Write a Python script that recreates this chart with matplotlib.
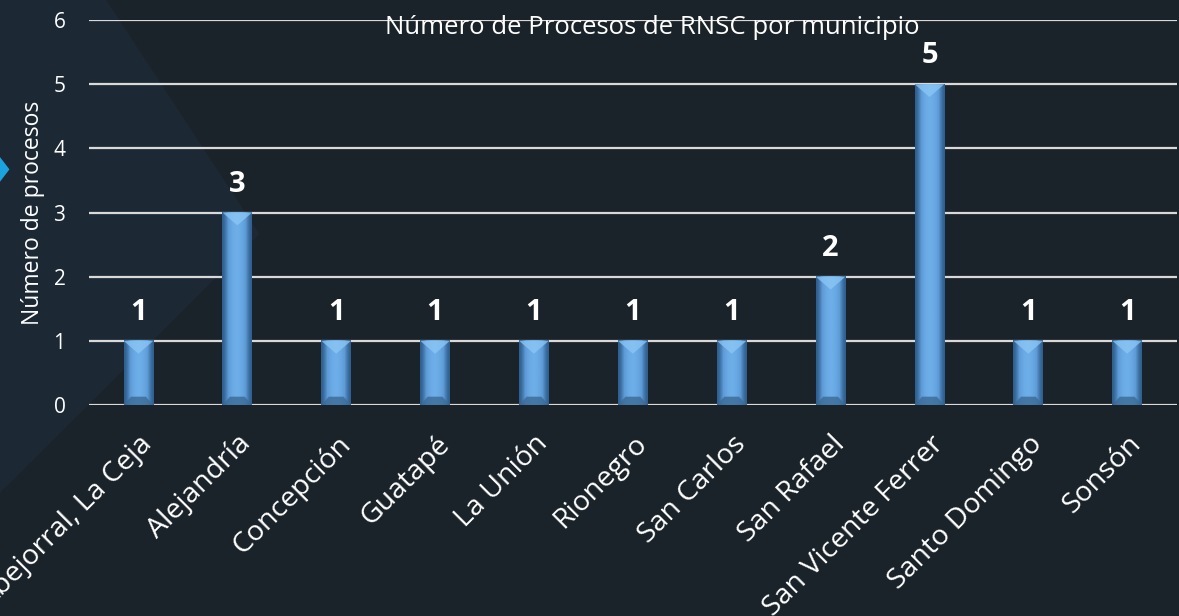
import numpy as np
import matplotlib.pyplot as plt
from matplotlib.patches import Polygon

municipios = ["Abejorral, La Ceja", "Alejandría", "Concepción", "Guatapé", "La Unión",
              "Rionegro", "San Carlos", "San Rafael", "San Vicente Ferrer",
              "Santo Domingo", "Sonsón"]
procesos = [1, 3, 1, 1, 1, 1, 1, 2, 5, 1, 1]

bg = "#1a2329"
plt.rcParams['font.family'] = ['Open Sans', 'DejaVu Sans']

fig = plt.figure(figsize=(11.79, 6.16), dpi=100, facecolor=bg)

# decorative background shapes (figure coords)
fig.patches.append(Polygon([(0, 1), (0.09, 1), (0.22, 0.62), (0, 0.20)], closed=True,
                           transform=fig.transFigure, facecolor="#1c2935", edgecolor="none", zorder=-2))
fig.patches.append(Polygon([(0, 0.745), (0.008, 0.725), (0, 0.705)], closed=True,
                           transform=fig.transFigure, facecolor="#1ba3e0", edgecolor="none", zorder=-1))

ax = fig.add_axes([0.0755, 0.3425, 0.9225, 0.625])
ax.set_facecolor("none")

x = np.arange(len(municipios))
bars = ax.bar(x, procesos, width=0.3, color="#5b9bd5", zorder=3)

# bevel / cylinder look
grad = np.array([[0.0, 0.35, 0.7, 0.9, 1.0, 0.9, 0.7, 0.35, 0.0]])
cmap = plt.matplotlib.colors.LinearSegmentedColormap.from_list("b", ["#2f5f8e", "#5d9ad6", "#6fb0ea"])
for b in bars:
    x0, w, h = b.get_x(), b.get_width(), b.get_height()
    ax.imshow(grad, cmap=cmap, aspect="auto", extent=(x0, x0 + w, 0, h), zorder=3,
              interpolation="bicubic")
    d = 0.2
    ax.add_patch(Polygon([(x0, h), (x0 + w, h), (x0 + w / 2, h - d)], closed=True,
                         facecolor="#8cc8f5", edgecolor="none", alpha=0.75, zorder=4))
    ax.add_patch(Polygon([(x0, 0), (x0 + w, 0), (x0 + w * 0.75, 0.13), (x0 + w * 0.25, 0.13)],
                         closed=True, facecolor="#3b6a96", edgecolor="none", alpha=0.8, zorder=4))
    ax.annotate(str(int(h)), (x0 + w / 2, h), xytext=(0, 10), textcoords="offset points",
                ha="center", va="bottom", color="white", fontsize=21, fontweight="bold")

ax.set_xlim(-0.5, len(municipios) - 0.5)
ax.set_ylim(0, 6)
ax.set_yticks(range(0, 7))
ax.yaxis.grid(True, color="#d9d9d9", linewidth=1.6, zorder=1)
ax.set_axisbelow(True)
for s in ax.spines.values():
    s.set_visible(False)
ax.tick_params(length=0, colors="white", labelsize=15)
ax.tick_params(axis="y", pad=17)
ax.set_xticks(x)
ax.set_xticklabels(municipios, rotation=45, ha="right", va="top", rotation_mode="anchor",
                   fontsize=20.5)
ax.tick_params(axis="x", pad=18)
ax.set_ylabel("Número de procesos", color="white", fontsize=16.5, labelpad=6)

fig.text(0.553, 0.956, "Número de Procesos de RNSC por municipio", color="white",
         fontsize=18.5, ha="center", va="center")

fig.savefig("out.png", dpi=100, facecolor=bg)
